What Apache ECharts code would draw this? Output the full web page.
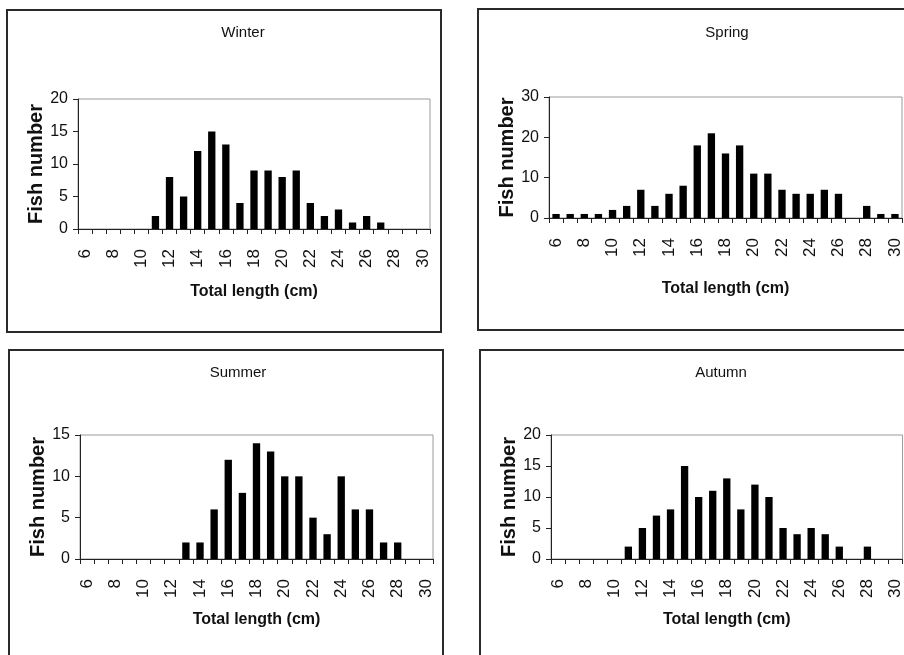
<!DOCTYPE html>
<html>
<head>
<meta charset="utf-8">
<script src="https://cdn.jsdelivr.net/npm/echarts@6/dist/echarts.min.js"></script>
<style>
html,body{margin:0;padding:0;background:#fff;}
#c{width:904px;height:655px;}
</style>
</head>
<body>
<div id="c"></div>
<script>
// Total length classes (cm)
const categories = ['6','7','8','9','10','11','12','13','14','15','16','17','18','19','20','21','22','23','24','25','26','27','28','29','30'];
const seasons = ['Winter','Spring','Summer','Autumn'];
const winter = [0,0,0,0,0,2,8,5,12,15,13,4,9,9,8,9,4,2,3,1,2,1,0,0,0];
const spring = [1,1,1,1,2,3,7,3,6,8,18,21,16,18,11,11,7,6,6,7,6,0,3,1,1];
const summer = [0,0,0,0,0,0,0,2,2,6,12,8,14,13,10,10,5,3,10,6,6,2,2,0,0];
const autumn = [0,0,0,0,0,2,5,7,8,15,10,11,13,8,12,10,5,4,5,4,2,0,2,0,0];
const yMax = [20,30,15,20];
const yStep = [5,10,5,5];
const xName = 'Total length (cm)';
const yName = 'Fish number';

const FONT = "'Liberation Sans',Arial,sans-serif";

const seriesData = [winter, spring, summer, autumn];
const grids = [
  {left:78,  top:99,  width:352, height:130},
  {left:549, top:97,  width:353, height:121},
  {left:80,  top:435, width:353, height:124},
  {left:551, top:435, width:353, height:124}
];
const titlePos = [[243,25],[727,25],[238,365],[721,365]];
const xGap = [55,63,53,53];
const yGap = [26.5,27,27.5,29];
const boxes = [[7,10,434,322],[478,9,440,321],[9,350,434,320],[480,350,440,320]];

const chart = echarts.init(document.getElementById('c'), null, {renderer:'canvas'});
const option = {
  backgroundColor:'#fff',
  animation:false,
  title: seasons.map((s,i)=>({
    text:s, left:titlePos[i][0], top:titlePos[i][1], textAlign:'center', padding:0,
    textStyle:{fontFamily:FONT, fontSize:15, fontWeight:'normal', color:'#111'}
  })),
  graphic: boxes.map(b=>({type:'rect', shape:{x:b[0],y:b[1],width:b[2],height:b[3]},
    style:{fill:'none', stroke:'#2a2a2a', lineWidth:2}, silent:true, z:-1})),
  grid: grids.map(g=>Object.assign({show:true, borderColor:'#9a9a9a', borderWidth:1, backgroundColor:'#fff'}, g)),
  xAxis: grids.map((g,i)=>({
    type:'category', gridIndex:i, data:categories, boundaryGap:true,
    name:xName, nameLocation:'middle', nameGap:xGap[i],
    nameTextStyle:{fontFamily:FONT, fontSize:16, fontWeight:'bold', color:'#111'},
    axisLine:{show:true, lineStyle:{color:'#222', width:1}},
    axisTick:{show:true, interval:0, length:5, inside:false, lineStyle:{color:'#222'}},
    axisLabel:{interval:1, rotate:90, margin:20, fontFamily:FONT, fontSize:17, color:'#111'},
    splitLine:{show:false}
  })),
  yAxis: grids.map((g,i)=>({
    type:'value', gridIndex:i, min:0, max:yMax[i], interval:yStep[i],
    name:yName, nameLocation:'middle', nameGap:yGap[i],
    nameTextStyle:{fontFamily:FONT, fontSize:20, fontWeight:'bold', color:'#111'},
    axisLine:{show:true, lineStyle:{color:'#222', width:1}},
    axisTick:{show:true, length:5, lineStyle:{color:'#222'}},
    axisLabel:{margin:10, fontFamily:FONT, fontSize:16, color:'#111'},
    splitLine:{show:false}
  })),
  series: seriesData.map((d,i)=>({
    type:'bar', xAxisIndex:i, yAxisIndex:i, data:d, barWidth:'52%',
    itemStyle:{color:'#000'}
  }))
};
chart.setOption(option);
</script>
</body>
</html>
